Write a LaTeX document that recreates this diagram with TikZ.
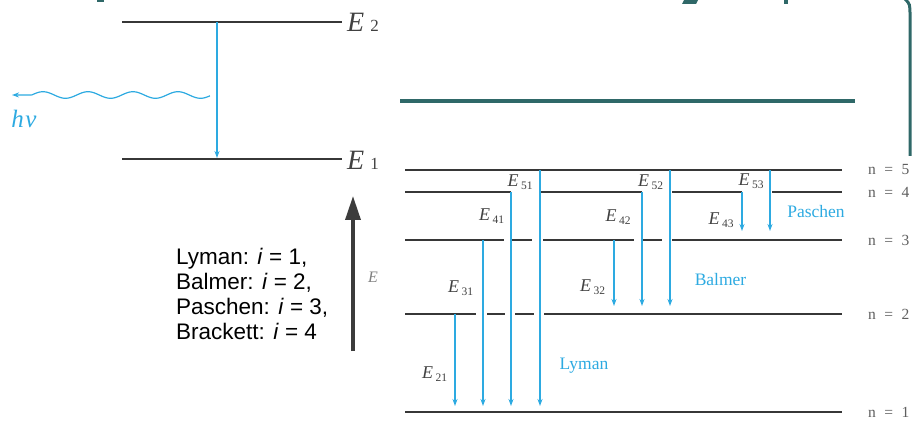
\documentclass[tikz,border=0pt]{standalone}
\usepackage{fontspec}
\setmainfont{Liberation Serif}
\newfontfamily\arialf{Liberation Sans}
\usetikzlibrary{arrows.meta}
\definecolor{lvl}{RGB}{55,55,55}
\definecolor{labgray}{RGB}{65,65,65}
\definecolor{ngray}{RGB}{95,95,95}
\definecolor{tblue}{RGB}{45,170,225}
\definecolor{tealc}{RGB}{47,104,104}
\definecolor{arrgray}{RGB}{60,60,60}
\newcommand{\El}[1]{{\fontsize{18}{18}\selectfont\itshape E}\hspace{2.5pt}\raisebox{-3pt}{\fontsize{11.5}{11.5}\selectfont #1}}
\newcommand{\Nl}[1]{n\hspace{8.5pt}=\hspace{8.5pt}#1}
\begin{document}
\begin{tikzpicture}[x=1pt,y=-1pt,
  level/.style={draw=lvl, line width=1.8pt},
  trans/.style={draw=tblue, line width=1.5pt, -{Stealth[length=7pt,width=5pt]}},
  elab/.style={inner sep=0pt, text=labgray},
  nlab/.style={inner sep=0pt, anchor=west, text=ngray, font=\fontsize{15.5}{15.5}\selectfont},
  series/.style={inner sep=0pt, text=tblue, font=\fontsize{17.5}{17.5}\selectfont},
  bigE/.style={inner sep=0pt, anchor=base west, text=labgray}]
\useasboundingbox (0,0) rectangle (916,422);

% slide remnants (teal)
\fill[tealc] (96.5,0) rectangle (104,2.5);
\fill[tealc] (684,0) -- (698,0) -- (696,4) -- (682,4) -- cycle;
\fill[tealc] (784,0) rectangle (788,4);
\draw[tealc, line width=4pt] (400,101) -- (855,101);
\draw[tealc, line width=3pt] (905,-1) .. controls (910,4) .. (910,16) -- (910,156);

% two-level diagram
\coordinate (e2l) at (122,22); \coordinate (e2r) at (342,22);
\coordinate (e1l) at (122,159); \coordinate (e1r) at (342,159);
\draw[level] (e2l) -- (e2r);
\draw[level] (e1l) -- (e1r);
\node[bigE] (E2) at (347,32) {{\fontsize{28}{28}\selectfont\itshape E}\hspace{6pt}{\fontsize{17}{17}\selectfont 2}};
\node[bigE] (E1) at (347,170) {{\fontsize{28}{28}\selectfont\itshape E}\hspace{6pt}{\fontsize{17}{17}\selectfont 1}};
\coordinate (t0) at (217,22); \coordinate (t1) at (217,158);
\draw[trans] (t0) -- (t1);
\coordinate (w0) at (32,94.9); \coordinate (w1) at (12,95);
\draw[tblue, line width=1.2pt] plot[domain=210:32, samples=90] (\x, {95 - 3.3*cos((\x-43)*8)});
\draw[tblue, line width=1.2pt, -{Stealth[length=7pt,width=5pt]}] (w0) -- (w1);
\node[inner sep=0pt, text=tblue, font=\fontsize{25}{25}\selectfont\itshape] (hv) at (24,119) {h\kern1.5ptν};

% energy axis and legend
\coordinate (ab) at (353,351); \coordinate (at) at (353,196);
\draw[arrgray, line width=3.5pt, -{Triangle[length=24pt,width=15pt]}] (ab) -- (at);
\node[inner sep=0pt, text=gray, font=\fontsize{16}{16}\selectfont\itshape] (Eax) at (373,277) {E};
\node[inner sep=0pt, anchor=west, align=left, font=\arialf\fontsize{22.5}{25}\selectfont] (legend) at (176,293.5)
  {Lyman: \textit{i} = 1,\\ Balmer: \textit{i} = 2,\\ Paschen: \textit{i} = 3,\\ Brackett: \textit{i} = 4};

% levels
\draw[level] (405,170) -- (842,170);
\draw[level] (405,192) -- (511,192) (541,192) -- (642,192) (672,192) -- (742,192) (772,192) -- (842,192);
\draw[level] (405,240) -- (504,240) (512,240) -- (532,240) (543,240) -- (634,240) (643,240) -- (662,240) (672,240) -- (842,240);
\draw[level] (405,314) -- (476,314) (487,314) -- (505,314) (515,314) -- (534,314) (544,314) -- (842,314);
\draw[level] (405,412) -- (842,412);

\node[nlab] (n5) at (868,170) {\Nl{5}};
\node[nlab] (n4) at (868,192) {\Nl{4}};
\node[nlab] (n3) at (868,240) {\Nl{3}};
\node[nlab] (n2) at (868,314) {\Nl{2}};
\node[nlab] (n1) at (868,412) {\Nl{1}};

% transitions
\coordinate (s21) at (455,314); \coordinate (f21) at (455,406);
\coordinate (s31) at (483,240); \coordinate (f31) at (483,406);
\coordinate (s41) at (511,192); \coordinate (f41) at (511,406);
\coordinate (s51) at (540,170); \coordinate (f51) at (540,406);
\coordinate (s32) at (614,240); \coordinate (f32) at (614,306);
\coordinate (s42) at (642,192); \coordinate (f42) at (642,306);
\coordinate (s52) at (670,170); \coordinate (f52) at (670,306);
\coordinate (s43) at (742,192); \coordinate (f43) at (742,231);
\coordinate (s53) at (770,170); \coordinate (f53) at (770,231);
\foreach \p in {21,31,41,51,32,42,52,43,53} \draw[trans] (s\p) -- (f\p);

\node[elab] (L21) at (434.5,374) {\El{21}};
\node[elab] (L31) at (460.5,288) {\El{31}};
\node[elab] (L41) at (491.5,216.5) {\El{41}};
\node[elab] (L51) at (520,182) {\El{51}};
\node[elab] (L32) at (592.5,287) {\El{32}};
\node[elab] (L42) at (618,217.5) {\El{42}};
\node[elab] (L52) at (650.5,182) {\El{52}};
\node[elab] (L43) at (721,220) {\El{43}};
\node[elab] (L53) at (751,181) {\El{53}};

\node[series] (lyman) at (584,366) {Lyman};
\node[series] (balmer) at (720.5,280) {Balmer};
\node[series] (paschen) at (816,212) {Paschen};
\end{tikzpicture}
\end{document}
